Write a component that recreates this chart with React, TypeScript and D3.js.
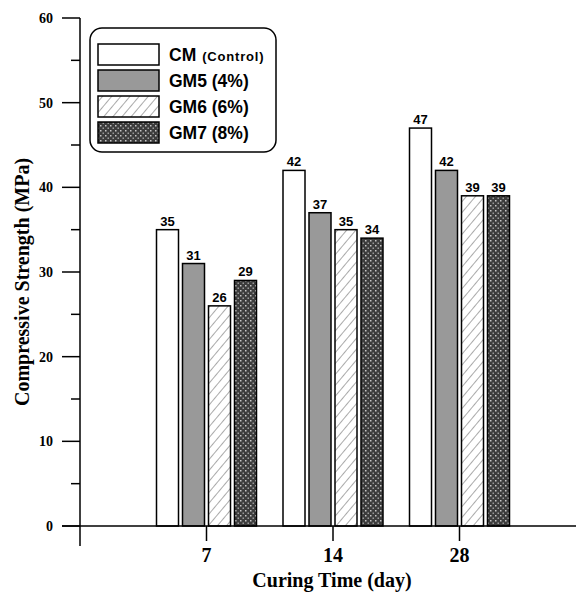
import React from "react";
import * as d3 from "d3";

const categories = ["7", "14", "28"];
const seriesNames = ["CM", "GM5 (4%)", "GM6 (6%)", "GM7 (8%)"];
const cmValues = [35, 42, 47];
const gm5Values = [31, 37, 42];
const gm6Values = [26, 35, 39];
const gm7Values = [29, 34, 39];
const yTicks = [0, 10, 20, 30, 40, 50, 60];
const yMinorTicks = [5, 15, 25, 35, 45, 55];

const series = [cmValues, gm5Values, gm6Values, gm7Values];
const fills = ["#ffffff", "#999999", "url(#hatch)", "url(#dots)"];

export default function App() {
  const W = 576, H = 592;
  const axisX = 80;
  const y = d3.scaleLinear().domain([0, 60]).range([526, 18]);
  const slots = ["", ...categories, " "];
  const x = d3.scalePoint<string>().domain(slots).range([axisX, axisX + 4 * 126.5]);
  const step = 26;
  const inner = d3.scaleBand<number>().domain([0, 1, 2, 3]).range([-2 * step, 2 * step]).paddingInner(4 / 26).paddingOuter(2 / 26);
  const serif = "'Liberation Serif', 'Times New Roman', serif";
  const sans = "'Liberation Sans', Arial, sans-serif";
  const y0 = y(0);
  return (
    <svg width={W} height={H} style={{ position: "absolute", left: 0, top: 0 }}>
      <defs>
        <pattern id="hatch" patternUnits="userSpaceOnUse" width={7} height={7} patternTransform="rotate(40)">
          <rect width={7} height={7} fill="#fff" />
          <line x1={0} y1={0} x2={0} y2={7} stroke="#555" strokeWidth={1} />
        </pattern>
        <pattern id="dots" patternUnits="userSpaceOnUse" width={5} height={5}>
          <rect width={5} height={5} fill="#3c3c3c" />
          <rect x={0} y={0} width={1.5} height={1.5} fill="#c8c8c8" />
          <rect x={2.5} y={2.5} width={1.5} height={1.5} fill="#9a9a9a" />
        </pattern>
      </defs>
      <rect width={W} height={H} fill="#fff" />
      {/* bars */}
      {categories.map((c, ci) =>
        series.map((vals, si) => {
          const bx = (x(c) as number) + (inner(si) as number);
          const bw = inner.bandwidth();
          const v = vals[ci];
          return (
            <g key={c + si}>
              <rect x={bx} y={y(v)} width={bw} height={y0 - y(v)} fill={fills[si]} stroke="#000" strokeWidth={1.5} />
              <text x={bx + bw / 2} y={y(v) - 4} textAnchor="middle" fontFamily={sans} fontWeight="bold" fontSize={13}>
                {v}
              </text>
            </g>
          );
        })
      )}
      {/* axes */}
      <line x1={axisX} x2={axisX} y1={y(60)} y2={546} stroke="#000" strokeWidth={1.5} />
      <line x1={62} x2={W} y1={y0} y2={y0} stroke="#000" strokeWidth={1.5} />
      {yTicks.map((t) => (
        <g key={t}>
          <line x1={62} x2={axisX} y1={y(t)} y2={y(t)} stroke="#000" strokeWidth={1.5} />
          <text x={53} y={y(t) + 5} textAnchor="end" fontFamily={serif} fontWeight="bold" fontSize={14}>
            {t}
          </text>
        </g>
      ))}
      {yMinorTicks.map((t) => (
        <line key={t} x1={71} x2={axisX} y1={y(t)} y2={y(t)} stroke="#000" strokeWidth={1.5} />
      ))}
      {categories.map((c) => (
        <g key={c}>
          <line x1={x(c)} x2={x(c)} y1={y0} y2={541} stroke="#000" strokeWidth={1.5} />
          <text x={x(c)} y={562} textAnchor="middle" fontFamily={serif} fontWeight="bold" fontSize={20}>
            {c}
          </text>
        </g>
      ))}
      <text x={332} y={587} textAnchor="middle" fontFamily={serif} fontWeight="bold" fontSize={20}>
        Curing Time (day)
      </text>
      <text transform={`translate(29,282) rotate(-90)`} textAnchor="middle" fontFamily={serif} fontWeight="bold" fontSize={20}>
        Compressive Strength (MPa)
      </text>
      {/* legend */}
      <rect x={90} y={28} width={186} height={124} rx={12} ry={12} fill="#fff" stroke="#000" strokeWidth={1.5} />
      {seriesNames.map((n, i) => (
        <g key={n}>
          <rect x={98} y={44 + i * 26} width={61} height={21} fill={fills[i]} stroke="#000" strokeWidth={1.5} />
          <text x={169} y={61 + i * 26} fontFamily={sans} fontWeight="bold" fontSize={17.5}>
            {n}
            {i === 0 ? <tspan fontSize={13} dx={6} letterSpacing={0.8}>(Control)</tspan> : null}
          </text>
        </g>
      ))}
    </svg>
  );
}
